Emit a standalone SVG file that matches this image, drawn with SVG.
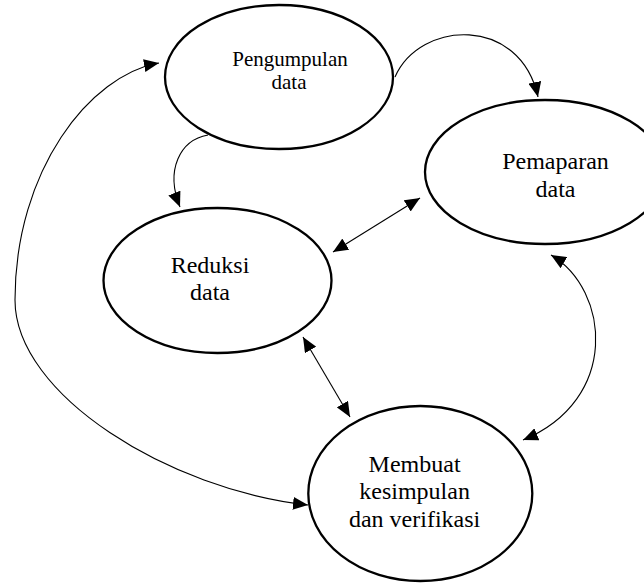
<svg xmlns="http://www.w3.org/2000/svg" width="644" height="583" viewBox="0 0 644 583">
<defs>
<marker id="ah" markerUnits="userSpaceOnUse" markerWidth="15" markerHeight="13" viewBox="0 0 15 13" refX="15" refY="6.5" orient="auto-start-reverse">
<path d="M0,0 L15,6.5 L0,13 z" fill="#000"/>
</marker>
<style>
.node ellipse{fill:#fff;stroke:#000;stroke-width:2.3}
.node text{fill:#000;text-anchor:middle}
.big{font-size:24px}
.small{font-size:21px}
#connectors path{fill:none;stroke:#000;stroke-width:1.1}
.one{marker-end:url(#ah)}
.two{marker-start:url(#ah);marker-end:url(#ah)}
</style>
</defs>
<rect width="644" height="583" fill="#fff"/>
<g font-family="Liberation Serif, Times New Roman, DejaVu Serif, serif">
<g id="n-pengumpulan" class="node">
<ellipse cx="279" cy="77" rx="114" ry="72"/>
<text class="small" x="290" y="65.5" font-family="Liberation Serif, serif">Pengumpulan</text>
<text class="small" x="289" y="88.5" font-family="Liberation Serif, serif">data</text>
</g>
<g id="n-pemaparan" class="node">
<ellipse cx="545" cy="172" rx="120" ry="72"/>
<text class="big" x="555.5" y="169" font-family="Liberation Serif, serif">Pemaparan</text>
<text class="big" x="555.5" y="196.5" font-family="Liberation Serif, serif">data</text>
</g>
<g id="n-reduksi" class="node">
<ellipse cx="217.5" cy="280.5" rx="114" ry="72.5"/>
<text class="big" x="210" y="272.5" font-family="Liberation Serif, serif">Reduksi</text>
<text class="big" x="210" y="299.5" font-family="Liberation Serif, serif">data</text>
</g>
<g id="n-kesimpulan" class="node">
<ellipse cx="420.3" cy="493.5" rx="112" ry="87.5"/>
<text class="big" x="414.6" y="471.7" font-family="Liberation Serif, serif">Membuat</text>
<text class="big" x="414.6" y="499.3" font-family="Liberation Serif, serif">kesimpulan</text>
<text class="big" x="414.6" y="526.7" font-family="Liberation Serif, serif">dan verifikasi</text>
</g>
</g>
<g id="connectors">
<path class="one" d="M395,77 C420,20 520,15 538,97"/>
<path class="one" d="M208,135 C180,140 165,170 180,207"/>
<path class="two" d="M333,252 L420,198"/>
<path class="two" d="M303,337 L350,417"/>
<path class="two" d="M551,255 C610,290 620,400 523,440"/>
<path class="two" d="M159,63 C90,75 15,170 15,300 C15,395 170,490 308,505"/>
</g>
</svg>
